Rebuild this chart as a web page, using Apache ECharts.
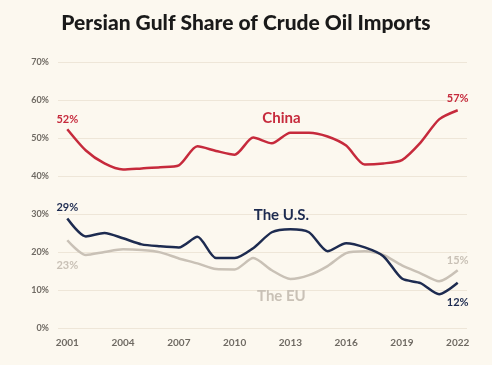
<!doctype html>
<html lang="en">
<head>
    <meta charset="UTF-8">
    <script src="https://cdn.jsdelivr.net/npm/echarts@6/dist/echarts.min.js"></script>
    <title>Persian Gulf Share of Crude Oil Imports</title>
    <style>
        html, body { margin: 0; padding: 0; background: #fcf8ef; }
        #main { width: 492px; height: 365px; }
    </style>
</head>
<body>
<div id="main"></div>
<script type="text/javascript">
    // years on the x axis
    var years = ['2001','2002','2003','2004','2005','2006','2007','2008','2009','2010','2011',
                 '2012','2013','2014','2015','2016','2017','2018','2019','2020','2021','2022'];
    // share of crude imports from the Persian Gulf, %
    var china = [52.3, 46.7, 43.3, 41.7, 42.0, 42.3, 42.8, 47.8, 46.6, 45.6, 50.1,
                 48.6, 51.4, 51.4, 50.4, 48.0, 43.0, 43.3, 44.2, 48.8, 54.9, 57.3];
    var us    = [28.8, 24.1, 25.0, 23.6, 22.0, 21.5, 21.2, 24.0, 18.4, 18.4, 21.0,
                 25.2, 26.0, 25.2, 20.2, 22.3, 21.2, 18.9, 13.0, 11.8, 8.9, 11.9];
    var eu    = [23.1, 19.2, 20.0, 20.7, 20.5, 19.9, 18.3, 17.0, 15.5, 15.4, 18.4,
                 15.2, 12.9, 13.9, 16.3, 19.7, 20.2, 19.2, 16.5, 14.4, 12.3, 15.2];
    var yTicks = [0, 70, 10]; // min, max, step

    var red = '#c62a3c', navy = '#1d2b50', beige = '#c9c1b6';
    var font = 'Lato';

    // first/last value labels plus the series name placed at a data position
    function labels(data, color, firstOffset, lastOffset, name, nameAt) {
        var last = data.length - 1;
        var small = { show: true, color: color, fontFamily: font, fontWeight: 'bold', fontSize: 11, formatter: '{c}' };
        return {
            symbol: 'circle',
            symbolSize: 1,
            itemStyle: { color: 'rgba(0,0,0,0)' },
            silent: true,
            label: small,
            data: [
                { coord: [years[0], data[0]], value: Math.round(data[0]) + '%',
                  label: { offset: firstOffset } },
                { coord: [years[last], data[last]], value: Math.round(data[last]) + '%',
                  label: { offset: lastOffset } },
                { coord: nameAt, value: name,
                  label: { fontSize: 15, offset: [-9, 0] } }
            ]
        };
    }

    var myChart = echarts.init(document.getElementById('main'));

    var option = {
        backgroundColor: '#fcf8ef',
        animation: false,
        title: {
            text: 'Persian Gulf Share of Crude Oil Imports',
            left: 'center',
            top: 8,
            textStyle: { fontFamily: 'Lato', fontWeight: 900, fontSize: 21, color: '#1a1a1a' }
        },
        grid: { left: 58, right: 25, top: 62, bottom: 37 },
        xAxis: {
            type: 'category',
            data: years,
            boundaryGap: true,
            axisLine: { show: false },
            axisTick: { show: false },
            axisLabel: { interval: 2, margin: 10, color: '#6f6a63', fontFamily: font, fontWeight: 'bold', fontSize: 10 }
        },
        yAxis: {
            type: 'value',
            min: yTicks[0],
            max: yTicks[1],
            interval: yTicks[2],
            axisLabel: { formatter: '{value}%', margin: 9, color: '#6f6a63', fontFamily: font, fontWeight: 'bold', fontSize: 9 },
            splitLine: { lineStyle: { color: '#eee6d8', width: 1 } }
        },
        series: [
            {
                name: 'The EU', type: 'line', data: eu, smooth: 0.25, showSymbol: false,
                lineStyle: { color: beige, width: 2.5 }, itemStyle: { color: beige },
                markPoint: labels(eu, beige, [0, 25], [0, -10], 'The EU', ['2013', 8.5])
            },
            {
                name: 'The U.S.', type: 'line', data: us, smooth: 0.25, showSymbol: false,
                lineStyle: { color: navy, width: 2.5 }, itemStyle: { color: navy },
                markPoint: labels(us, navy, [0, -11], [0, 20], 'The U.S.', ['2013', 29.7])
            },
            {
                name: 'China', type: 'line', data: china, smooth: 0.25, showSymbol: false,
                lineStyle: { color: red, width: 2.5 }, itemStyle: { color: red },
                markPoint: labels(china, red, [0, -10], [0, -12], 'China', ['2013', 55.3])
            }
        ]
    };

    myChart.setOption(option);
</script>
</body>
</html>
